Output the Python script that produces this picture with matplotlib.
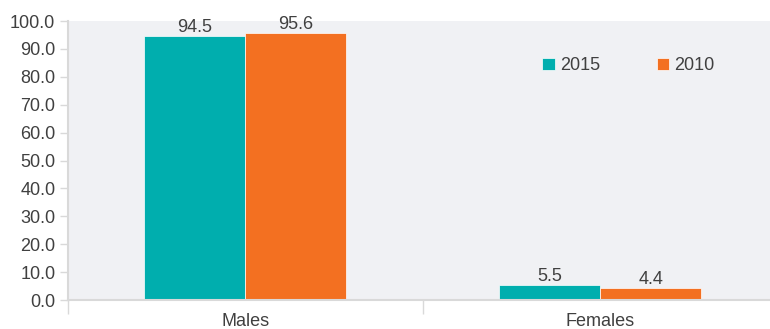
import numpy as np
import matplotlib.pyplot as plt

plt.rcParams['font.family'] = ['Liberation Sans', 'DejaVu Sans']

categories = ["Males", "Females"]
years = ["2015", "2010"]
vals_2015 = [94.5, 5.5]
vals_2010 = [95.6, 4.4]
colors = ["#00aeae", "#f37021"]
text_col = "#404040"
grid_col = "#d9d9d9"

fig = plt.figure(figsize=(7.7, 3.29), dpi=100)
ax = fig.add_axes([0.088, 0.088, 0.922, 0.848])
ax.set_facecolor("#f0f1f4")

x = np.arange(len(categories))
w = 0.285
b1 = ax.bar(x - w / 2, vals_2015, w, color=colors[0], label=years[0],
            edgecolor="white", linewidth=0.5)
b2 = ax.bar(x + w / 2, vals_2010, w, color=colors[1], label=years[1],
            edgecolor="white", linewidth=0.5)
for bars in (b1, b2):
    ax.bar_label(bars, fmt="%.1f", padding=0, fontsize=13, color=text_col)

ax.set_xlim(-0.5, 1.5)
ax.set_ylim(0, 100)
ax.set_yticks(np.arange(0, 101, 10))
ax.set_yticklabels([f"{v:.1f}" for v in np.arange(0, 101, 10)])
ax.set_xticks(x)
ax.set_xticklabels(categories)
ax.set_xticks([-0.5, 0.5], minor=True)
ax.tick_params(axis="x", which="major", length=0, pad=9, labelsize=13, labelcolor=text_col)
ax.tick_params(axis="x", which="minor", length=10, color=grid_col, width=1)
ax.tick_params(axis="y", length=6, color=grid_col, width=1, labelsize=13,
               labelcolor=text_col, pad=3)

for s in ["top", "right"]:
    ax.spines[s].set_visible(False)
ax.spines["left"].set_color(grid_col)
ax.spines["bottom"].set_color(grid_col)
ax.spines["left"].set_linewidth(1.5)
ax.spines["bottom"].set_linewidth(1.5)

leg = ax.legend(loc="center", bbox_to_anchor=(0.79, 0.84), ncol=2, frameon=False,
                fontsize=13, handlelength=0.7, handleheight=0.7,
                handletextpad=0.3, columnspacing=3.1)
for t in leg.get_texts():
    t.set_color(text_col)

fig.savefig("out.png", dpi=100)
